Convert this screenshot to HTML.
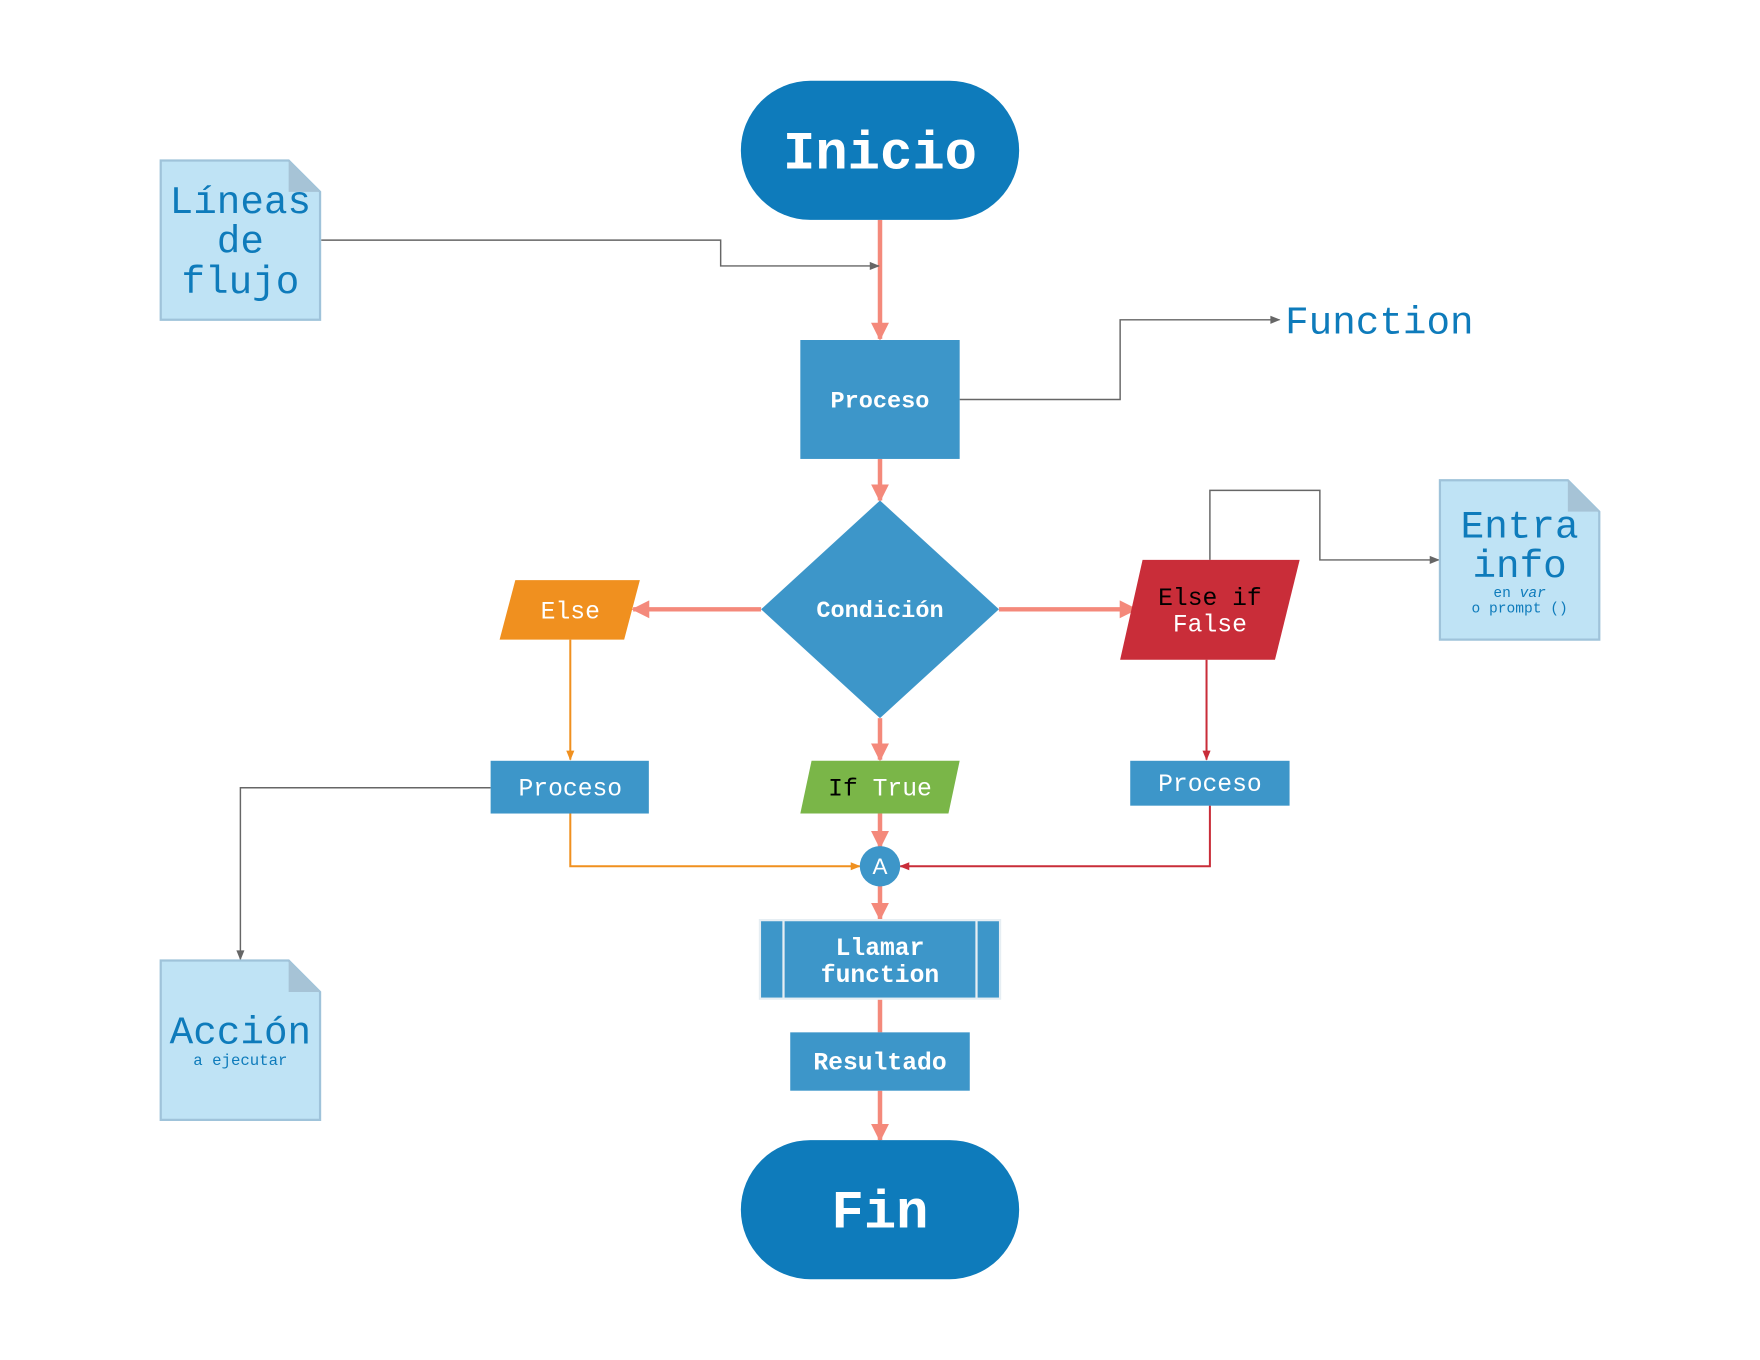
<!DOCTYPE html>
<html><head><meta charset="utf-8"><style>
html,body{margin:0;padding:0;background:#fff;}
svg{display:block;}
text{font-family:"Liberation Mono",monospace;}
</style></head><body>
<svg width="1760" height="1360" viewBox="0 0 1568 1212" xmlns="http://www.w3.org/2000/svg">
<defs>
<marker id="pk" viewBox="0 0 10 10" refX="9" refY="5" markerWidth="4" markerHeight="4" orient="auto" markerUnits="strokeWidth"><path d="M0,0L10,5L0,10z" fill="#f4897b"/></marker>
<marker id="gr" viewBox="0 0 10 10" refX="9" refY="5" markerWidth="11" markerHeight="9" orient="auto" markerUnits="userSpaceOnUse"><path d="M0,1L10,5L0,9z" fill="#666"/></marker>
<marker id="or" viewBox="0 0 10 10" refX="9" refY="5" markerWidth="11" markerHeight="9" orient="auto" markerUnits="userSpaceOnUse"><path d="M0,1L10,5L0,9z" fill="#f0901f"/></marker>
<marker id="rd" viewBox="0 0 10 10" refX="9" refY="5" markerWidth="11" markerHeight="9" orient="auto" markerUnits="userSpaceOnUse"><path d="M0,1L10,5L0,9z" fill="#c92d39"/></marker>
</defs>
<g stroke="#f4897b" stroke-width="4" fill="none">
<line x1="784" y1="196" x2="784" y2="302" marker-end="url(#pk)"/>
<line x1="784" y1="409" x2="784" y2="446" marker-end="url(#pk)"/>
<line x1="678" y1="543" x2="564" y2="543" marker-end="url(#pk)"/>
<line x1="890" y1="543" x2="1012" y2="543" marker-end="url(#pk)"/>
<line x1="784" y1="640" x2="784" y2="677" marker-end="url(#pk)"/>
<line x1="784" y1="725" x2="784" y2="755" marker-end="url(#pk)"/>
<line x1="784" y1="789" x2="784" y2="819" marker-end="url(#pk)"/>
<line x1="784" y1="890" x2="784" y2="920"/>
<line x1="784" y1="972" x2="784" y2="1016" marker-end="url(#pk)"/>
</g>
<g stroke="#666" stroke-width="1.3" fill="none">
<polyline points="286,214 642,214 642,237 783,237" marker-end="url(#gr)"/>
<polyline points="855,356 998,356 998,285 1140,285" marker-end="url(#gr)"/>
<polyline points="1078,499 1078,437 1176,437 1176,499 1282,499" marker-end="url(#gr)"/>
<polyline points="437,702 214,702 214,855" marker-end="url(#gr)"/>
</g>
<polyline points="508,570 508,677" stroke="#f0901f" stroke-width="1.8" fill="none" marker-end="url(#or)"/>
<polyline points="508,725 508,772 766,772" stroke="#f0901f" stroke-width="1.8" fill="none" marker-end="url(#or)"/>
<polyline points="1075,588 1075,677" stroke="#c92d39" stroke-width="1.8" fill="none" marker-end="url(#rd)"/>
<polyline points="1078,718 1078,772 802,772" stroke="#c92d39" stroke-width="1.8" fill="none" marker-end="url(#rd)"/>

<rect x="660" y="72" width="248" height="124" rx="62" fill="#0e7bbb"/>
<text x="784" y="150" font-size="48" font-weight="bold" fill="#fff" text-anchor="middle">Inicio</text>
<rect x="660" y="1016" width="248" height="124" rx="62" fill="#0e7bbb"/>
<text x="784" y="1094" font-size="48" font-weight="bold" fill="#fff" text-anchor="middle">Fin</text>

<rect x="713" y="303" width="142" height="106" fill="#3d96c9"/>
<text x="784" y="363" font-size="21" font-weight="bold" fill="#fff" text-anchor="middle">Proceso</text>
<text x="1145" y="297" font-size="35" fill="#0e7bbb">Function</text>

<polygon points="784,446 890,543 784,640 678,543" fill="#3d96c9"/>
<text x="784" y="550" font-size="21" font-weight="bold" fill="#fff" text-anchor="middle">Condición</text>

<polygon points="459,517 570,517 556,570 445,570" fill="#f0901f"/>
<text x="508" y="551" font-size="22" fill="#fff" text-anchor="middle">Else</text>

<polygon points="1018,499 1158,499 1136,588 998,588" fill="#c92d39"/>
<text x="1078" y="539" font-size="22" fill="#000" text-anchor="middle">Else if</text>
<text x="1078" y="563" font-size="22" fill="#fff" text-anchor="middle">False</text>

<rect x="437" y="678" width="141" height="47" fill="#3d96c9"/>
<text x="508" y="709" font-size="22" fill="#fff" text-anchor="middle">Proceso</text>
<rect x="1007" y="678" width="142" height="40" fill="#3d96c9"/>
<text x="1078" y="705" font-size="22" fill="#fff" text-anchor="middle">Proceso</text>

<polygon points="723,678 855,678 845,725 713,725" fill="#7ab648"/>
<text x="784" y="709" font-size="22" text-anchor="middle"><tspan fill="#000">If</tspan><tspan fill="#fff"> True</tspan></text>

<circle cx="784" cy="772" r="18" fill="#3d96c9"/>
<text x="784" y="779" font-size="20" fill="#fff" text-anchor="middle" style="font-family:'Liberation Sans',sans-serif">A</text>

<rect x="677" y="820" width="214" height="70" fill="#3d96c9" stroke="#e6eef3" stroke-width="2"/>
<line x1="698" y1="820" x2="698" y2="890" stroke="#e6eef3" stroke-width="2"/>
<line x1="870" y1="820" x2="870" y2="890" stroke="#e6eef3" stroke-width="2"/>
<text x="784" y="851" font-size="22" font-weight="bold" fill="#fff" text-anchor="middle">Llamar</text>
<text x="784" y="875" font-size="22" font-weight="bold" fill="#fff" text-anchor="middle">function</text>

<rect x="704" y="920" width="160" height="52" fill="#3d96c9"/>
<text x="784" y="953" font-size="22" font-weight="bold" fill="#fff" text-anchor="middle">Resultado</text>

<g stroke="#9fc3da" stroke-width="2">
<path d="M143,143 L257,143 L285,171 L285,285 L143,285 Z" fill="#bfe3f5"/>
<path d="M1283,428 L1397,428 L1425,456 L1425,570 L1283,570 Z" fill="#bfe3f5"/>
<path d="M143,856 L257,856 L285,884 L285,998 L143,998 Z" fill="#bfe3f5"/>
</g>
<g fill="#a6c3d6">
<path d="M257,143 L285,171 L257,171 Z"/>
<path d="M1397,428 L1425,456 L1397,456 Z"/>
<path d="M257,856 L285,884 L257,884 Z"/>
</g>
<g fill="#0e7bbb" text-anchor="middle">
<text x="214" y="190" font-size="35">Líneas</text>
<text x="214" y="225" font-size="35">de</text>
<text x="214" y="261" font-size="35">flujo</text>
<text x="1354" y="479" font-size="35">Entra</text>
<text x="1354" y="514" font-size="35">info</text>
<text x="1354" y="532" font-size="13">en <tspan font-style="italic">var</tspan></text>
<text x="1354" y="546" font-size="13">o prompt ()</text>
<text x="214" y="930" font-size="35">Acción</text>
<text x="214" y="949" font-size="14">a ejecutar</text>
</g>
</svg>
</body></html>
